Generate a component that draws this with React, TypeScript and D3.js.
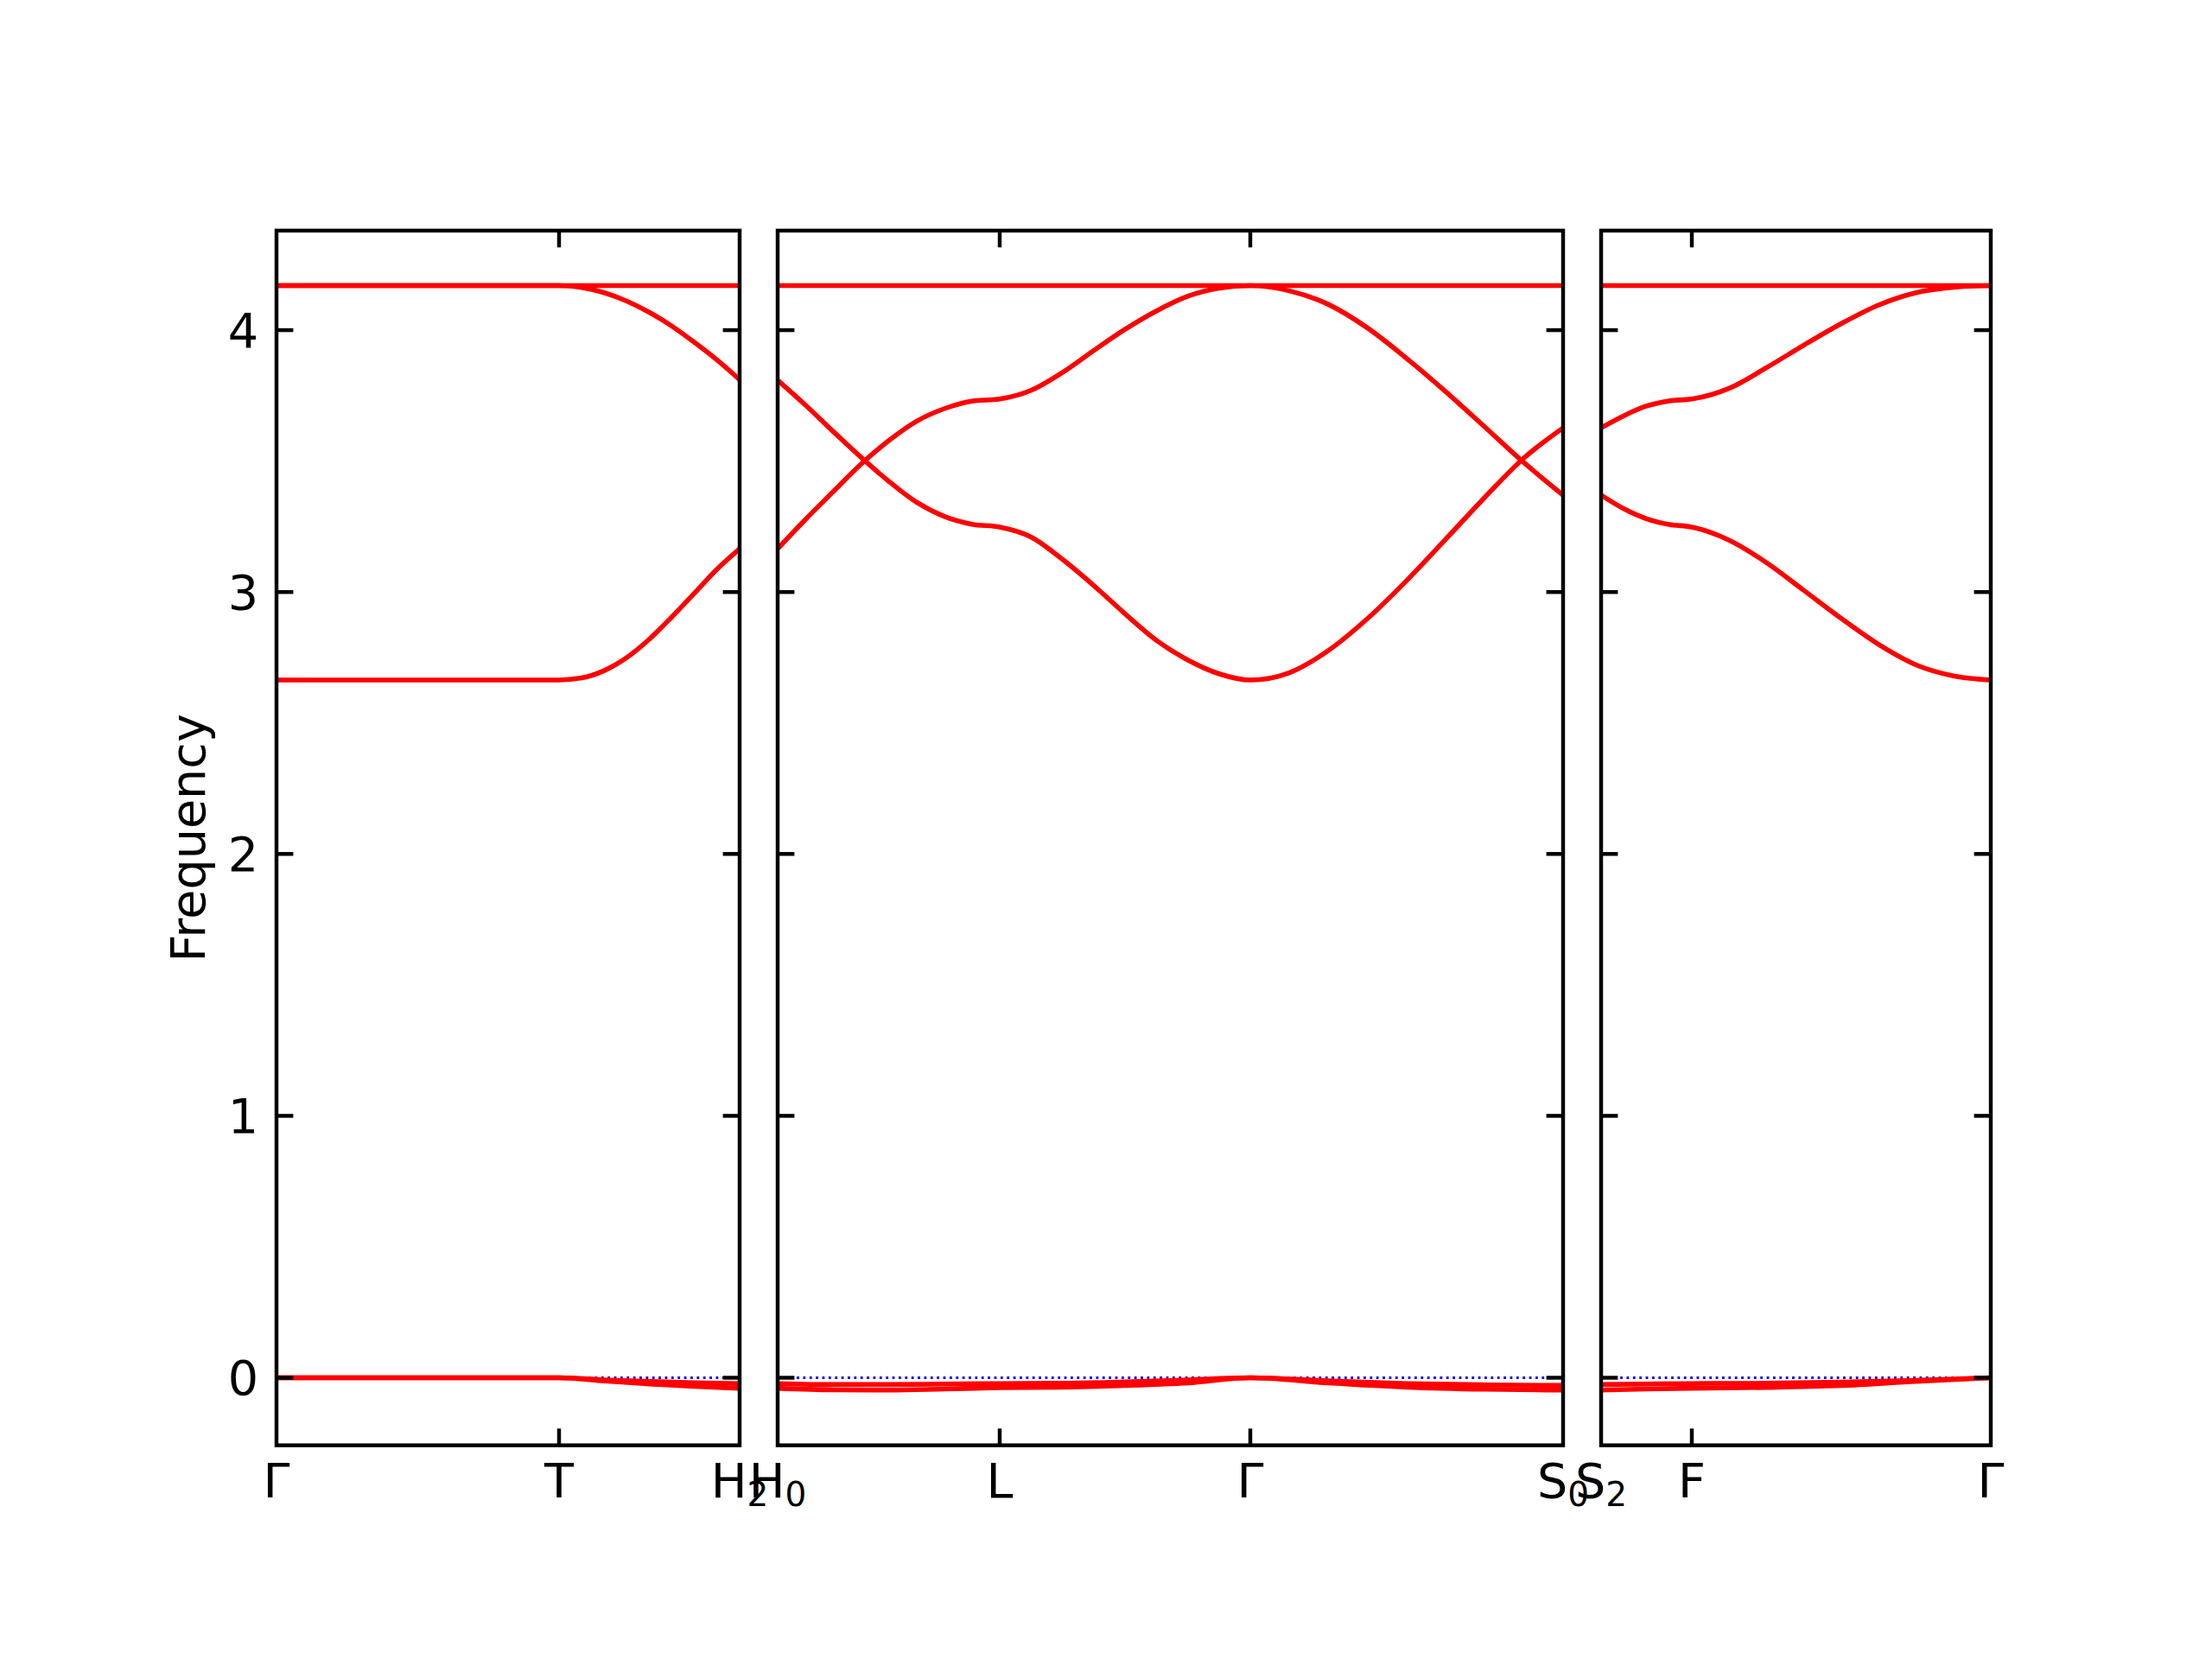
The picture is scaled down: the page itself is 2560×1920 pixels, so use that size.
import React from "react";
import * as d3 from "d3";

// ---------- data ----------
// high-symmetry labels per panel ("_" marks a subscript)
const panelLabels: string[][] = [
  ["Γ", "T", "H_2"],
  ["H_0", "L", "Γ", "S_0"],
  ["S_2", "F", "Γ"],
];
// path-segment lengths per panel (reciprocal-space distance)
const segmentLengths: number[][] = [
  [0.327, 0.209],
  [0.257, 0.29, 0.362],
  [0.105, 0.346],
];
const yTicks = [0, 1, 2, 3, 4];

// band values per panel: each band = list of segments, each segment = values at evenly spaced points
const panel1Bands: number[][][] = [
  [[4.17, 4.17], [4.17, 4.17]],
  [[4.17, 4.17], [4.17, 4.163, 4.143, 4.111, 4.068, 4.015, 3.953, 3.886, 3.811]],
  [[2.664, 2.664], [2.664, 2.672, 2.7, 2.75, 2.82, 2.905, 2.996, 3.087, 3.165]],
  [[0, 0], [0, -0.008, -0.014, -0.019, -0.022]],
  [[0, 0], [0, -0.012, -0.024, -0.033, -0.04]],
];
const panel2Bands: number[][][] = [
  [[4.17, 4.17], [4.17, 4.17], [4.17, 4.17]],
  [
    [3.809, 3.714, 3.613, 3.515, 3.423, 3.343, 3.289, 3.259, 3.248],
    [3.248, 3.21, 3.125, 3.025, 2.917, 2.816, 2.741, 2.688, 2.664],
    [2.664, 2.692, 2.777, 2.899, 3.044, 3.202, 3.362, 3.512, 3.627],
  ],
  [
    [3.165, 3.277, 3.383, 3.488, 3.578, 3.652, 3.7, 3.729, 3.737],
    [3.737, 3.77, 3.838, 3.922, 4.003, 4.073, 4.129, 4.16, 4.17],
    [4.17, 4.15, 4.098, 4.008, 3.892, 3.765, 3.63, 3.494, 3.37],
  ],
  [
    [-0.022, -0.026, -0.026, -0.024, -0.022],
    [-0.022, -0.021, -0.016, -0.008, 0],
    [0, -0.012, -0.022, -0.027, -0.029],
  ],
  [
    [-0.04, -0.046, -0.047, -0.043, -0.038],
    [-0.038, -0.036, -0.03, -0.02, 0],
    [0, -0.02, -0.036, -0.044, -0.047],
  ],
];
const panel3Bands: number[][][] = [
  [[4.17, 4.17], [4.17, 4.17]],
  [
    [3.627, 3.673, 3.71, 3.73, 3.737],
    [3.737, 3.778, 3.857, 3.943, 4.025, 4.096, 4.143, 4.164, 4.17],
  ],
  [
    [3.37, 3.318, 3.28, 3.258, 3.248],
    [3.248, 3.198, 3.112, 3.006, 2.899, 2.8, 2.722, 2.68, 2.664],
  ],
  [[-0.026, -0.024, -0.022], [-0.022, -0.021, -0.017, -0.01, 0]],
  [[-0.047, -0.043, -0.04], [-0.04, -0.037, -0.03, -0.014, 0]],
];
const allBands = [panel1Bands, panel2Bands, panel3Bands];

// ---------- layout ----------
const W = 2560;
const H = 1920;
const AX_LEFT = 320;
const AX_RIGHT = 2304;
const AX_TOP = 266.9;
const AX_BOTTOM = 1672.7;
const GAP = 44;
const FONT = "'DejaVu Sans', sans-serif";
const FS = 55.6;
const SUB_FS = 39;
const TICK = 19.4;
const SPINE_W = 4.44;
const LINE_W = 5.56;

const y = d3.scaleLinear().domain([-0.258, 4.38]).range([AX_BOTTOM, AX_TOP]);

function Label({ text, x, yy }: { text: string; x: number; yy: number }) {
  const [base, sub] = text.split("_");
  return (
    <text x={x} y={yy} textAnchor="middle" fontFamily={FONT} fontSize={FS} fill="#000">
      <tspan>{base}</tspan>
      {sub !== undefined && (
        <tspan fontSize={SUB_FS} dy={10}>
          {sub}
        </tspan>
      )}
    </text>
  );
}

export default function App() {
  const totalLen = d3.sum(segmentLengths.flat());
  const avail = AX_RIGHT - AX_LEFT - GAP * (segmentLengths.length - 1);
  const pxPerUnit = avail / totalLen;

  let cursor = AX_LEFT;
  const panels = segmentLengths.map((segs, pi) => {
    const len = d3.sum(segs);
    const x0 = cursor;
    const x1 = cursor + len * pxPerUnit;
    cursor = x1 + GAP;
    const xs = d3.scaleLinear().domain([0, len]).range([x0, x1]);
    const starts = segs.map((_, i) => d3.sum(segs.slice(0, i)));
    const tickPos = [...starts, len];
    const line = d3
      .line<[number, number]>()
      .x((d) => xs(d[0]))
      .y((d) => y(d[1]))
      .curve(d3.curveMonotoneX);
    const paths = allBands[pi].map((band) => {
      const pts: [number, number][] = [];
      band.forEach((vals, s) => {
        const n = vals.length;
        vals.forEach((v, i) => {
          if (s > 0 && i === 0) return;
          pts.push([starts[s] + (segs[s] * i) / (n - 1), v]);
        });
      });
      return line(pts) as string;
    });
    return { pi, x0, x1, xs, tickPos, paths };
  });

  return (
    <svg
      width={W}
      height={H}
      viewBox={`0 0 ${W} ${H}`}
      style={{ position: "absolute", left: 0, top: 0, display: "block", background: "#fff" }}
    >
      <rect x={0} y={0} width={W} height={H} fill="#fff" />
      <defs>
        {panels.map((p) => (
          <clipPath id={`clip${p.pi}`} key={p.pi}>
            <rect x={p.x0} y={AX_TOP} width={p.x1 - p.x0} height={AX_BOTTOM - AX_TOP} />
          </clipPath>
        ))}
      </defs>
      {panels.map((p) => (
        <g key={p.pi}>
          <g clipPath={`url(#clip${p.pi})`}>
            <line
              x1={p.x0}
              x2={p.x1}
              y1={y(0)}
              y2={y(0)}
              stroke="#0000ff"
              strokeWidth={2.78}
              strokeDasharray="2.78 4.59"
            />
            {p.paths.map((d, i) => (
              <path key={i} d={d} fill="none" stroke="#ff0000" strokeWidth={LINE_W} />
            ))}
          </g>
          {/* y ticks */}
          {yTicks.map((t) => (
            <g key={t}>
              <line x1={p.x0} x2={p.x0 + TICK} y1={y(t)} y2={y(t)} stroke="#000" strokeWidth={SPINE_W} />
              <line x1={p.x1} x2={p.x1 - TICK} y1={y(t)} y2={y(t)} stroke="#000" strokeWidth={SPINE_W} />
            </g>
          ))}
          {/* x ticks at interior points */}
          {p.tickPos.slice(1, -1).map((t, i) => (
            <g key={i}>
              <line x1={p.xs(t)} x2={p.xs(t)} y1={AX_TOP} y2={AX_TOP + TICK} stroke="#000" strokeWidth={SPINE_W} />
              <line
                x1={p.xs(t)}
                x2={p.xs(t)}
                y1={AX_BOTTOM}
                y2={AX_BOTTOM - TICK}
                stroke="#000"
                strokeWidth={SPINE_W}
              />
            </g>
          ))}
          <rect
            x={p.x0}
            y={AX_TOP}
            width={p.x1 - p.x0}
            height={AX_BOTTOM - AX_TOP}
            fill="none"
            stroke="#000"
            strokeWidth={SPINE_W}
          />
          {/* x labels */}
          {p.tickPos.map((t, i) => (
            <Label key={i} text={panelLabels[p.pi][i]} x={p.xs(t)} yy={1733} />
          ))}
          {/* y tick labels only on first panel */}
          {p.pi === 0 &&
            yTicks.map((t) => (
              <text
                key={t}
                x={299}
                y={y(t) + 20}
                textAnchor="end"
                fontFamily={FONT}
                fontSize={FS}
                fill="#000"
              >
                {t}
              </text>
            ))}
        </g>
      ))}
      <text
        transform={`translate(237, ${(AX_TOP + AX_BOTTOM) / 2}) rotate(-90)`}
        textAnchor="middle"
        fontFamily={FONT}
        fontSize={FS}
        fill="#000"
      >
        Frequency
      </text>
    </svg>
  );
}
